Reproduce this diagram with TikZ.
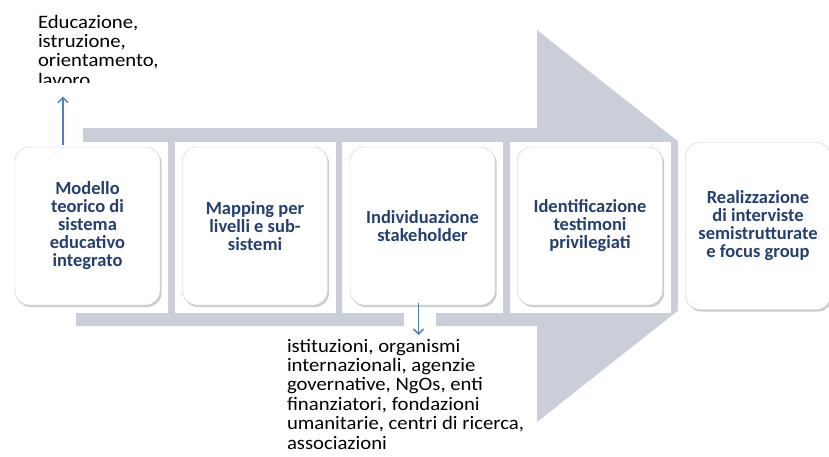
\documentclass[tikz,border=0pt]{standalone}
\usepackage{fontspec}
\setmainfont{Carlito}
\newfontfamily\notefont{Carlito}[FakeStretch=1.09]
\usepackage{tikz}
\usetikzlibrary{arrows.meta}
\usetikzlibrary{shadows,backgrounds}
\usetikzlibrary{positioning}
\definecolor{arrowgray}{RGB}{201,206,216}
\definecolor{stagetxt}{RGB}{36,63,112}
\definecolor{linkblue}{RGB}{79,129,189}
\tikzset{auto, >={Straight Barb[length=5pt,width=10pt]}, node distance=22.5pt, x=1pt, y=-1pt}
\tikzstyle{stagebox} = [draw=gray!40, fill=white, rounded corners=14pt, minimum width=145pt, minimum height=158pt, text centered, align=center, inner sep=2pt, outer sep=0pt, text=stagetxt, font=\bfseries\fontsize{18.5}{18}\selectfont, drop shadow={shadow xshift=1.5pt, shadow yshift=-2pt, opacity=0.4}]
\tikzstyle{note} = [align=left, inner sep=0pt, outer sep=0pt, font=\notefont\fontsize{19}{19.4}\selectfont]
\tikzstyle{link} = [->, draw=linkblue, line width=1.5pt]
\tikzstyle{gap} = [fill=white]

\begin{document}
\begin{tikzpicture}
		\useasboundingbox (0,0) rectangle (829,456);

		\node [stagebox] (model) at (87.5,226) {Modello\\teorico di\\sistema\\educativo\\integrato};
		\node [stagebox, right=of model] (mapping) {Mapping per\\livelli e sub-\\sistemi};
		\node [stagebox, right=of mapping] (stake) {Individuazione\\stakeholder};
		\node [stagebox, right=of stake] (ident) {Identificazione\\testimoni\\privilegiati};
		\node [stagebox, right=23pt of ident, minimum height=167pt] (interv) {Realizzazione\\di interviste\\semistrutturate\\e focus group};

		\begin{scope}
			\clip (0,0) rectangle (300,82);
			\node [note, anchor=north west] (edu) at (38,15) {Educazione,\\istruzione,\\orientamento,\\lavoro};
		\end{scope}
		\node [note, anchor=north west] (actors) at (287,339) {istituzioni, organismi\\internazionali, agenzie\\governative, NgOs, enti\\finanziatori, fondazioni\\umanitarie, centri di ricerca,\\associazioni};

		\coordinate (up_foot) at ([xshift=-24.5pt,yshift=2pt]model.north);
		\coordinate (down_foot) at ([xshift=-4pt,yshift=2pt]stake.south);

		\begin{scope}[on background layer]
			\fill [arrowgray] (76,128) -- (537,128) -- (537,30) -- (785,226) -- (537,422) -- (537,326) -- (76,326) -- cycle;
			\foreach \b in {model,mapping,stake,ident,interv}
				\fill [gap] ([xshift=-8pt,yshift=5pt]\b.north west) rectangle ([xshift=8pt,yshift=-8pt]\b.south east);
			\fill [gap] ([xshift=-20pt]up_foot |- edu.south) rectangle ([xshift=20pt]up_foot);
			\fill [gap] ([xshift=-15pt]down_foot) rectangle ([xshift=17pt,yshift=-24pt]down_foot);
		\end{scope}

		\draw [link, shorten >=10pt] (up_foot) -- (up_foot |- edu.south);
		\draw [link, shorten >=4pt] (down_foot) -- (down_foot |- actors.north);
	\end{tikzpicture}
\end{document}
